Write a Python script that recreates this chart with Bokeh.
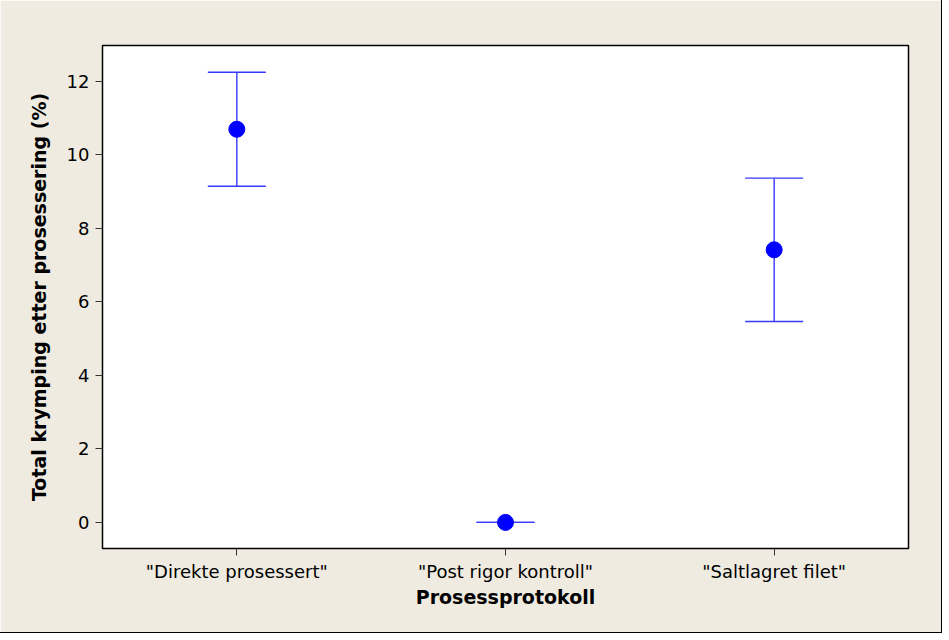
from bokeh.plotting import figure
from bokeh.models import ColumnDataSource, FactorRange, Range1d, Whisker, FixedTicker
from bokeh.embed import file_html
from bokeh.resources import INLINE

categories = ['"Direkte prosessert"', '"Post rigor kontroll"', '"Saltlagret filet"']
means = [10.70, 0.00, 7.42]
lower = [9.15, 0.00, 5.47]
upper = [12.25, 0.00, 9.37]
y_ticks = [0, 2, 4, 6, 8, 10, 12]

FONT = "DejaVu Sans"
BG = "#EFEBE1"

src = ColumnDataSource(dict(cat=categories, mean=means, lower=lower, upper=upper))

p = figure(width=941, height=632, x_range=FactorRange(*categories),
           y_range=Range1d(-0.71, 12.98), output_backend="svg",
           toolbar_location=None, min_border_left=102, min_border_top=45,
           min_border_right=33, min_border_bottom=84)
p.styles = {"outline": "1px solid black"}
p.background_fill_color = "white"
p.border_fill_color = BG
p.outline_line_color = "black"
p.outline_line_width = 1.5
p.grid.visible = False

w = Whisker(base="cat", lower="lower", upper="upper", source=src,
            line_color="#3838FF", line_width=1.4)
w.upper_head.size = 58
w.lower_head.size = 58
w.upper_head.line_color = "#3838FF"
w.lower_head.line_color = "#3838FF"
w.upper_head.line_width = 1.4
w.lower_head.line_width = 1.4
p.add_layout(w)

p.scatter("cat", "mean", source=src, size=16, color="#0000FF")

p.yaxis.ticker = FixedTicker(ticks=y_ticks)
p.yaxis.minor_tick_line_color = None
p.xaxis.axis_label = "Prosessprotokoll"
p.yaxis.axis_label = "Total krymping etter prosessering (%)"
for ax in (p.xaxis, p.yaxis):
    ax.axis_line_color = "black"
    ax.major_tick_line_color = "#333333"
    ax.major_tick_in = 0
    ax.major_tick_out = 7
    ax.major_label_text_font = FONT
    ax.major_label_text_font_size = "18px"
    ax.major_label_text_color = "black"
    ax.axis_label_text_font = FONT
    ax.axis_label_text_font_style = "bold"
    ax.axis_label_text_font_size = "19px"
    ax.axis_label_text_color = "black"
p.xaxis.major_label_standoff = 5
p.xaxis.axis_label_standoff = 1
p.yaxis.major_label_standoff = 6
p.yaxis.axis_label_standoff = 14

open("out.html", "w").write(file_html(p, INLINE))
